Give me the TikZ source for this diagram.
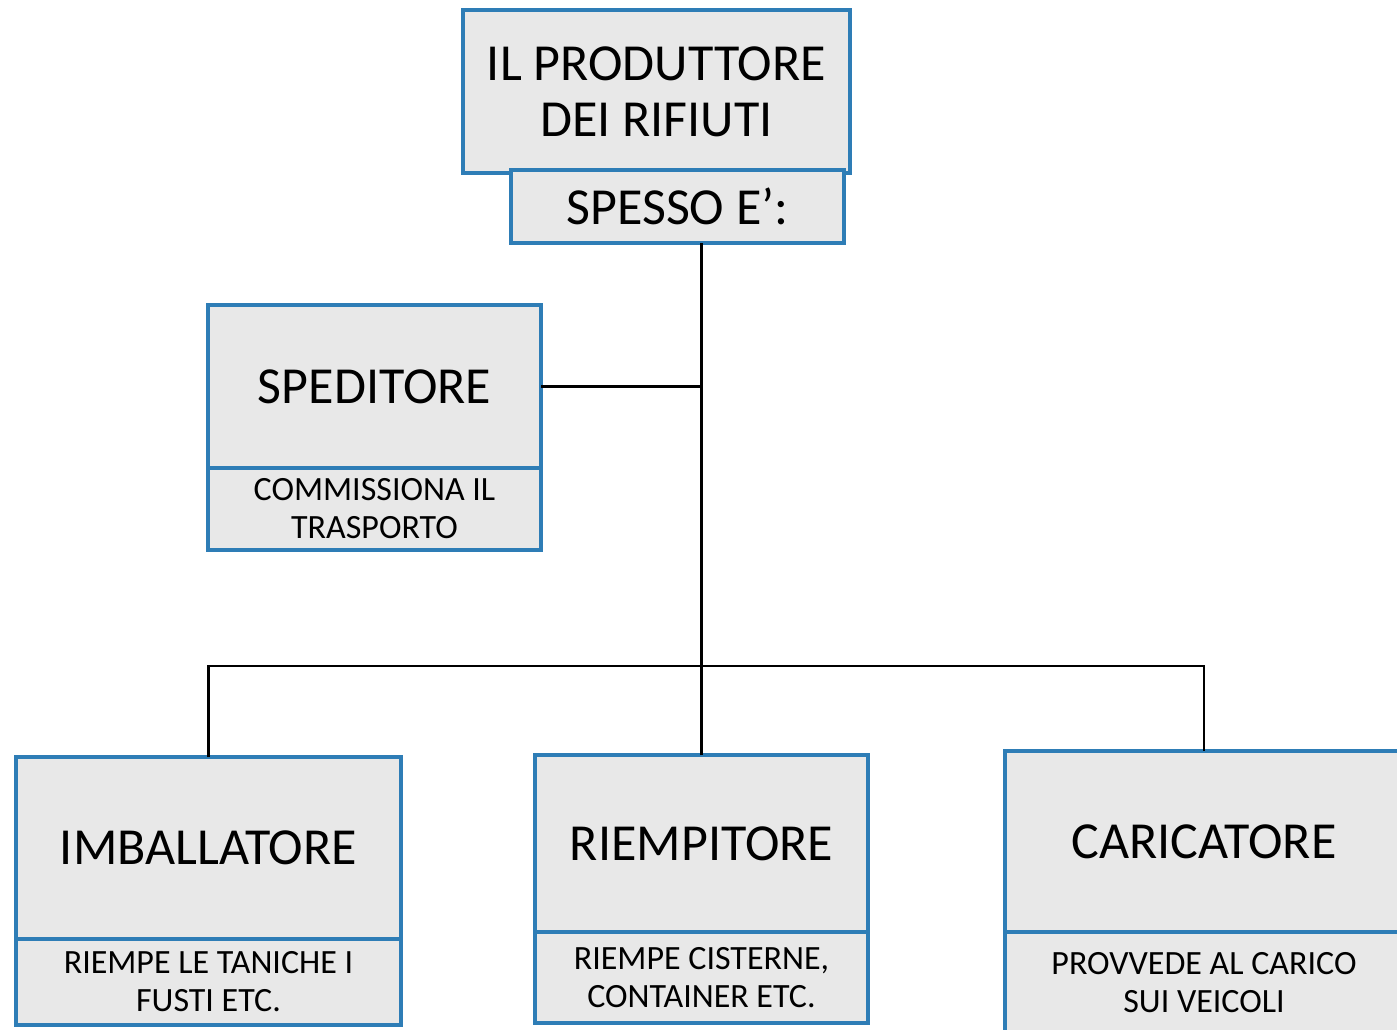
\documentclass[tikz,border=0pt]{standalone}
\usepackage{fontspec}
\setmainfont{Carlito}
\usepackage{tikz}
\usetikzlibrary{positioning, calc}
\definecolor{boxblue}{RGB}{46,125,182}
\definecolor{boxgray}{RGB}{232,232,232}
\tikzset{
  box/.style={rectangle, draw=boxblue, fill=boxgray, line width=3.2pt,
              inner sep=0pt, outer sep=0pt, align=center},
  ttl/.style={box, font=\fontsize{52}{56}\selectfont},
  sub/.style={box, font=\fontsize{34}{38}\selectfont},
  con/.style={line width=2.2pt, black},
}

\begin{document}
\begin{tikzpicture}[x=1pt, y=-1pt]
  \useasboundingbox (0,0) rectangle (1397,1030);
  % top of the chart
  \node[ttl, anchor=north west, minimum width=387pt, minimum height=163pt] (prod) at (463,10) {IL PRODUTTORE\\DEI RIFIUTI};
  \node[ttl, anchor=north west, minimum width=333pt, minimum height=73pt] (spesso) at (511,170) {SPESSO E’:};
  % speditore
  \node[ttl, anchor=north west, minimum width=333pt, minimum height=163pt] (sped) at (208,305) {SPEDITORE};
  \node[sub, below=0pt of sped, minimum width=333pt, minimum height=82pt] (spedsub) {COMMISSIONA IL\\TRASPORTO};
  % bottom row
  \node[ttl, anchor=north west, minimum width=385pt, minimum height=182pt] (imb) at (16,757) {IMBALLATORE};
  \node[sub, below=0pt of imb, minimum width=385pt, minimum height=86pt] (imbsub) {RIEMPE LE TANICHE I\\FUSTI ETC.};
  \node[ttl, anchor=north west, minimum width=333pt, minimum height=177pt] (riemp) at (535,755) {RIEMPITORE};
  \node[sub, below=0pt of riemp, minimum width=333pt, minimum height=91pt] (riempsub) {RIEMPE CISTERNE,\\CONTAINER ETC.};
  \node[ttl, anchor=north west, minimum width=398pt, minimum height=181pt] (car) at (1005,751) {CARICATORE};
  \node[sub, below=0pt of car, minimum width=398pt, minimum height=102pt] (carsub) {PROVVEDE AL CARICO\\SUI VEICOLI};
  % connectors
  \coordinate (bus) at (701,666);
  \draw[con] (riemp.north) -- (riemp.north |- spesso.south);
  \draw[con] (sped.east) -- (sped.east -| riemp.north);
  \draw[con] (imb.north) -- (imb.north |- bus) -- (car.north |- bus) -- (car.north);
\end{tikzpicture}
\end{document}
